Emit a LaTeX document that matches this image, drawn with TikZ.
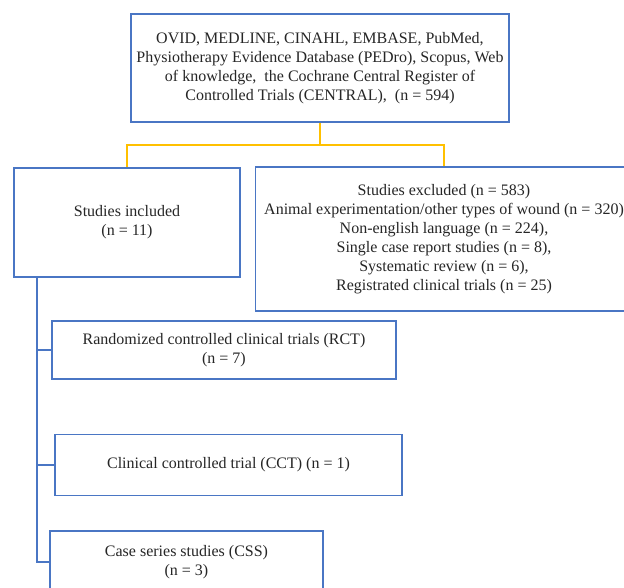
\documentclass[tikz,border=0pt]{standalone}
\usepackage{fontspec}
\setmainfont{Liberation Serif}
\definecolor{boxblue}{HTML}{4A76C4}
\definecolor{linkyellow}{HTML}{FFC000}
\definecolor{txt}{HTML}{262626}
\begin{document}
\begin{tikzpicture}[x=1pt,y=-1pt,
  box/.style={draw=boxblue,line width=1.4pt,fill=white,inner sep=0pt,align=center,
    text=txt,font=\fontsize{16}{19}\selectfont},
  yline/.style={draw=linkyellow,line width=1.6pt},
  bline/.style={draw=boxblue,line width=1.6pt}]
\useasboundingbox (0,0) rectangle (624,587);
\clip (0,0) rectangle (624,587);
\coordinate (yj) at (320,145);
\coordinate (sx) at (36.8,0);
\node[box,minimum width=378pt,minimum height=108pt] (top) at (320,68)
  {OVID, MEDLINE, CINAHL, EMBASE, PubMed,\\
   Physiotherapy Evidence Database (PEDro), Scopus, Web\\
   of knowledge, \ the Cochrane Central Register of\\
   Controlled Trials (CENTRAL), \ (n = 594)};
\node[box,minimum width=226pt,minimum height=109pt] (incl) at (127,222.5)
  {Studies included\\ (n = 11)};
\node[box,minimum width=377pt,minimum height=144pt] (excl) at (444,239)
  {Studies excluded (n = 583)\\
   Animal experimentation/other types of wound (n = 320)\\
   Non-english language (n = 224),\\
   Single case report studies (n = 8),\\
   Systematic review (n = 6),\\
   Registrated clinical trials (n = 25)};
\node[box,minimum width=344pt,minimum height=58pt] (rct) at (224,350)
  {Randomized controlled clinical trials (RCT)\\ (n = 7)};
\node[box,minimum width=347pt,minimum height=61pt] (cct) at (228.5,465)
  {Clinical controlled trial (CCT) (n = 1)};
\node[box,minimum width=273pt,minimum height=62pt] (css) at (186.5,562)
  {Case series studies (CSS)\\ (n = 3)};
\draw[yline] (top.south) -- (yj) -| (incl.north);
\draw[yline] (yj) -| (excl.north);
\draw[bline] (incl.south -| sx) |- (rct.west);
\draw[bline] (incl.south -| sx) |- (cct.west);
\draw[bline] (incl.south -| sx) |- (css.west);
\end{tikzpicture}
\end{document}
